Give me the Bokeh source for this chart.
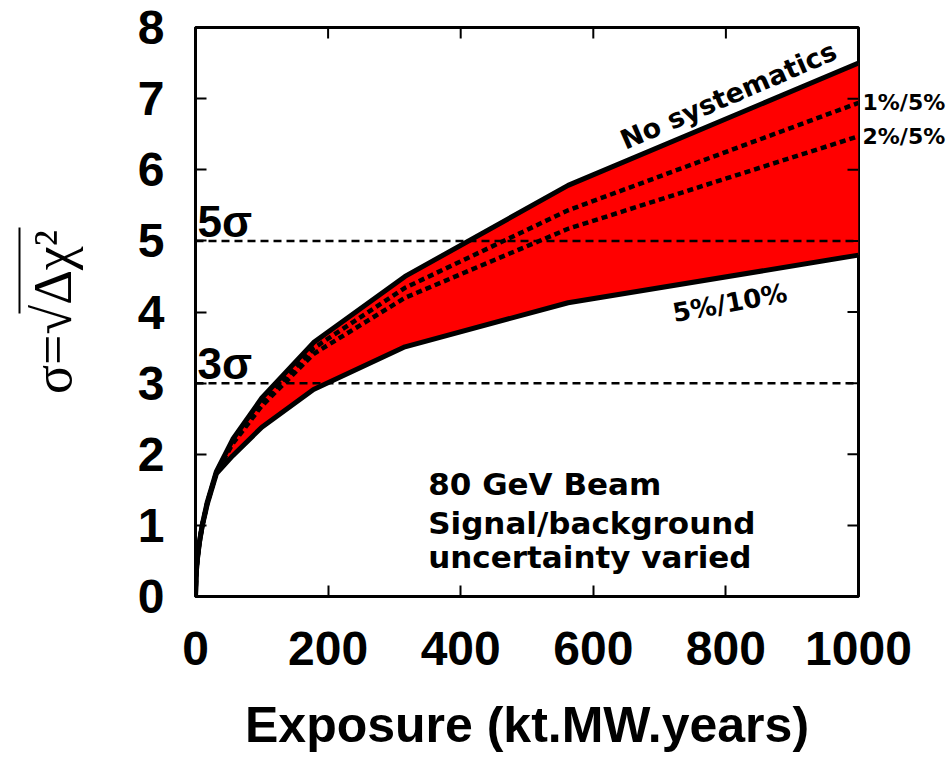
import math
from bokeh.plotting import figure
from bokeh.models import Range1d, FixedTicker, Label, Span, LinearAxis
from bokeh.embed import file_html
from bokeh.resources import INLINE

# ---------------- data ----------------
exposure = [0, 1, 1.78, 3.16, 5.62, 10, 17.8, 31.6, 56.2, 100, 178, 316, 562, 1000]
no_syst = [0, 0.30, 0.42, 0.56, 0.75, 1.00, 1.33, 1.76, 2.21, 2.79, 3.57, 4.50, 5.78, 7.50]
syst_1_5 = [0, 0.30, 0.42, 0.56, 0.75, 1.00, 1.32, 1.75, 2.18, 2.73, 3.49, 4.34, 5.43, 6.94]
syst_2_5 = [0, 0.30, 0.42, 0.56, 0.75, 0.99, 1.31, 1.74, 2.15, 2.68, 3.41, 4.20, 5.17, 6.47]
syst_5_10 = [0, 0.30, 0.42, 0.55, 0.74, 0.98, 1.30, 1.73, 1.98, 2.38, 2.91, 3.51, 4.13, 4.80]

x_ticks = [0, 200, 400, 600, 800, 1000]
y_ticks = [0, 1, 2, 3, 4, 5, 6, 7, 8]
sigma_levels = [3, 5]
sigma_texts = ["3σ", "5σ"]
info_lines = ["80 GeV Beam", "Signal/background", "uncertainty varied"]
info_y = [1.58, 1.04, 0.55]
end_labels = ["1%/5%", "2%/5%"]

SANS = "Liberation Sans"
WIDE = "DejaVu Sans"
SERIF = "Liberation Serif"
X_MAX, Y_MAX = 1000, 8

# ---------------- main plot ----------------
p = figure(width=950, height=755, x_range=Range1d(0, X_MAX), y_range=Range1d(0, Y_MAX),
           output_backend="svg", toolbar_location=None,
           min_border_left=195, min_border_right=92, min_border_top=27, min_border_bottom=152)
p.grid.visible = False
p.outline_line_color = "black"
p.outline_line_width = 3
p.background_fill_color = "white"
p.border_fill_color = "white"

p.varea(x=exposure, y1=syst_5_10, y2=no_syst, fill_color="#ff0000")

for lvl in sigma_levels:
    p.add_layout(Span(location=lvl, dimension="width", line_color="black",
                      line_width=2.5, line_dash="8 5"))

p.line(exposure, syst_1_5, line_color="black", line_width=4.5, line_dash="6 4")
p.line(exposure, syst_2_5, line_color="black", line_width=4.5, line_dash="6 4")
p.line(exposure, no_syst, line_color="black", line_width=5)
p.line(exposure, syst_5_10, line_color="black", line_width=5)

# mirrored ticks on the top and right edges
p.ray(x=x_ticks, y=Y_MAX, length=11, length_units="screen", angle=-math.pi / 2,
      line_color="black", line_width=2)
p.ray(x=X_MAX, y=y_ticks, length=11, length_units="screen", angle=math.pi,
      line_color="black", line_width=2)

def style_axis(ax, ticks):
    ax.ticker = FixedTicker(ticks=ticks)
    ax.major_tick_in = 11
    ax.major_tick_out = 0
    ax.major_tick_line_width = 2
    ax.major_tick_line_color = "black"
    ax.minor_tick_line_color = None
    ax.axis_line_width = 3
    ax.axis_line_color = "black"
    ax.major_label_text_font = SANS
    ax.major_label_text_font_style = "bold"
    ax.major_label_text_font_size = "48px"
    ax.major_label_text_color = "black"

xa = p.xaxis[0]
ya = p.yaxis[0]
style_axis(xa, x_ticks)
style_axis(ya, y_ticks)
xa.major_label_standoff = 35
ya.major_label_standoff = 31
xa.axis_label = "Exposure (kt.MW.years)"
xa.axis_label_text_font = SANS
xa.axis_label_text_font_style = "bold"
xa.axis_label_text_font_size = "50px"
xa.axis_label_text_color = "black"
xa.axis_label_standoff = 29

ya.axis_label = "σ=√Δχ²"
ya.axis_label_text_font = SERIF
ya.axis_label_text_font_style = "normal"
ya.axis_label_text_font_size = "54px"
ya.axis_label_text_color = "black"
ya.axis_label_standoff = 52

# overline of the square root: a bare axis line limited to the radicand's extent
bar = LinearAxis(ticker=FixedTicker(ticks=[]), bounds=(3.98, 5.19))
bar.axis_line_width = 2
bar.axis_line_color = "black"
bar.major_tick_line_color = None
bar.minor_tick_line_color = None
p.add_layout(bar, "left")

# curve end labels on the right (outside the frame)
ends = LinearAxis(ticker=FixedTicker(ticks=[syst_1_5[-1], syst_2_5[-1]]),
                  major_label_overrides={syst_1_5[-1]: end_labels[0], syst_2_5[-1]: end_labels[1]})
ends.axis_line_color = None
ends.major_tick_line_color = None
ends.minor_tick_line_color = None
ends.major_tick_out = 0
ends.major_tick_in = 0
ends.major_label_standoff = 4
ends.major_label_text_font = WIDE
ends.major_label_text_font_style = "bold"
ends.major_label_text_font_size = "22px"
ends.major_label_text_color = "black"
p.add_layout(ends, "right")

# sigma level labels
for lvl, t in zip(sigma_levels, sigma_texts):
    p.add_layout(Label(x=3, y=lvl + 0.27, text=t, text_font=SANS, text_font_style="bold",
                       text_font_size="44px", text_color="black", text_baseline="alphabetic"))

# curve labels
p.add_layout(Label(x=643, y=6.40, text="No systematics", text_font=WIDE, text_font_style="bold",
                   text_font_size="27px", text_color="black", angle=math.radians(23.3),
                   text_baseline="alphabetic"))
p.add_layout(Label(x=720, y=3.98, text="5%/10%", text_font=WIDE, text_font_style="bold",
                   text_font_size="26px", text_color="black", angle=math.radians(10.5),
                   text_baseline="alphabetic"))

for t, yy in zip(info_lines, info_y):
    p.add_layout(Label(x=351, y=yy, text=t, text_font=WIDE, text_font_style="bold",
                       text_font_size="31px", text_color="black", text_baseline="alphabetic"))

open("out.html", "w").write(file_html(p, INLINE))
